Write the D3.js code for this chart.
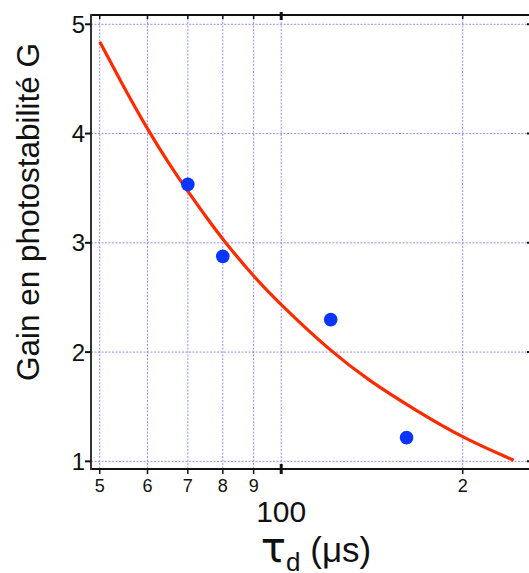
<!DOCTYPE html>
<html>
<head>
<meta charset="utf-8">
<script src="https://cdn.jsdelivr.net/npm/d3@7"></script>
<style>
  html, body { margin: 0; padding: 0; background: #fff; overflow: hidden; }
  svg { display: block; font-family: "Liberation Sans", Arial, Helvetica, sans-serif; }
</style>
</head>
<body>
<svg id="chart" width="529" height="573"></svg>
<script>
// ---- data ----
const measTau = [70, 80, 120.8, 161.4];          // tau_d (µs)
const measGain = [3.535, 2.876, 2.297, 1.217];   // G
const fitTau = [50, 55, 60, 65, 70, 75, 80, 90, 100, 120, 140, 168, 200, 243];
const fitGain = [4.84, 4.41, 4.04, 3.73, 3.47, 3.24, 3.03, 2.69, 2.43, 2.02, 1.735, 1.46, 1.215, 1.01];
const xTickValues = [50, 60, 70, 80, 90, 100, 200];
const xTickLabels = ["5", "6", "7", "8", "9", "100", "2"];
const yTickValues = [1, 2, 3, 4, 5];
const yTickLabels = ["1", "2", "3", "4", "5"];
const yTitle = "Gain en photostabilité G";

// ---- layout ----
const L = 91, R = 531, T = 15, B = 469;
const svg = d3.select("#chart");
const x = d3.scaleLog().domain([48.36, 259.6]).range([L, R]);
const y = d3.scaleLinear().domain([0.93, 5.085]).range([B, T]);

const gridColor = "#8f8fff";
// grid
svg.append("g").selectAll("line").data(xTickValues).join("line")
  .attr("x1", d => x(d)).attr("x2", d => x(d)).attr("y1", T).attr("y2", B)
  .attr("stroke", gridColor).attr("stroke-width", 1).attr("stroke-dasharray", "2,1.5");
svg.append("g").selectAll("line").data(yTickValues).join("line")
  .attr("x1", L).attr("x2", R).attr("y1", d => y(d)).attr("y2", d => y(d))
  .attr("stroke", gridColor).attr("stroke-width", 1).attr("stroke-dasharray", "2,1.5");

// frame
svg.append("line").attr("x1", L).attr("x2", R).attr("y1", T).attr("y2", T).attr("stroke", "#111").attr("stroke-width", 2);
svg.append("line").attr("x1", L - 1).attr("x2", R).attr("y1", B).attr("y2", B).attr("stroke", "#111").attr("stroke-width", 2);
svg.append("line").attr("x1", L).attr("x2", L).attr("y1", T - 1).attr("y2", B + 1).attr("stroke", "#333").attr("stroke-width", 2);
svg.append("line").attr("x1", R).attr("x2", R).attr("y1", T - 1).attr("y2", B + 1).attr("stroke", "#333").attr("stroke-width", 2);

// y axis ticks + labels
const yAxis = svg.append("g");
yAxis.selectAll("line.l").data(yTickValues).join("line").attr("class", "l")
  .attr("x1", L - 6).attr("x2", L).attr("y1", d => y(d)).attr("y2", d => y(d))
  .attr("stroke", "#111").attr("stroke-width", 2);
yAxis.selectAll("line.r").data(yTickValues).join("line").attr("class", "r")
  .attr("x1", R - 4).attr("x2", R).attr("y1", d => y(d)).attr("y2", d => y(d))
  .attr("stroke", "#111").attr("stroke-width", 2);
yAxis.selectAll("text").data(yTickValues).join("text")
  .attr("x", L - 6).attr("y", d => y(d) + 8.5)
  .attr("text-anchor", "end").attr("font-size", 24).attr("fill", "#111")
  .text((d, i) => yTickLabels[i]);

// x axis ticks + labels
const xAxis = svg.append("g");
xAxis.selectAll("line.b").data(xTickValues).join("line").attr("class", "b")
  .attr("x1", d => x(d)).attr("x2", d => x(d))
  .attr("y1", d => d === 100 ? B - 5 : B).attr("y2", B + 5)
  .attr("stroke", "#111").attr("stroke-width", d => d === 100 ? 3 : 1.5);
xAxis.selectAll("line.t").data(xTickValues).join("line").attr("class", "t")
  .attr("x1", d => x(d)).attr("x2", d => x(d))
  .attr("y1", d => d === 100 ? T - 3 : T).attr("y2", d => d === 100 ? T + 5 : T + 4)
  .attr("stroke", "#111").attr("stroke-width", d => d === 100 ? 3 : 1.5);
xAxis.selectAll("text").data(xTickValues).join("text")
  .attr("x", d => x(d)).attr("y", d => d === 100 ? 522 : 492)
  .attr("text-anchor", "middle").attr("font-size", d => d === 100 ? 30 : 18).attr("fill", "#111")
  .text((d, i) => xTickLabels[i]);

// fit curve
const line = d3.line().x(d => x(d[0])).y(d => y(d[1])).curve(d3.curveBasis);
svg.append("path").datum(fitTau.map((t, i) => [t, fitGain[i]]))
  .attr("d", line).attr("fill", "none").attr("stroke", "#ff2a00").attr("stroke-width", 3.2);

// measured points
svg.append("g").selectAll("circle").data(measTau.map((t, i) => [t, measGain[i]])).join("circle")
  .attr("cx", d => x(d[0])).attr("cy", d => y(d[1])).attr("r", 6.8).attr("fill", "#0a35ff");

// axis titles
const xt = svg.append("text").attr("x", 316).attr("y", 562).attr("text-anchor", "middle").attr("fill", "#111");
xt.append("tspan").attr("font-size", 42).attr("font-family", "DejaVu Sans").text("τ");
xt.append("tspan").attr("font-size", 26).attr("dy", 9).text("d");
xt.append("tspan").attr("font-size", 35).attr("dy", -9).text(" (μs)");

svg.append("text").attr("transform", "translate(39,212) rotate(-90)")
  .attr("text-anchor", "middle").attr("font-size", 31.5).attr("fill", "#111")
  .text(yTitle);
</script>
</body>
</html>
